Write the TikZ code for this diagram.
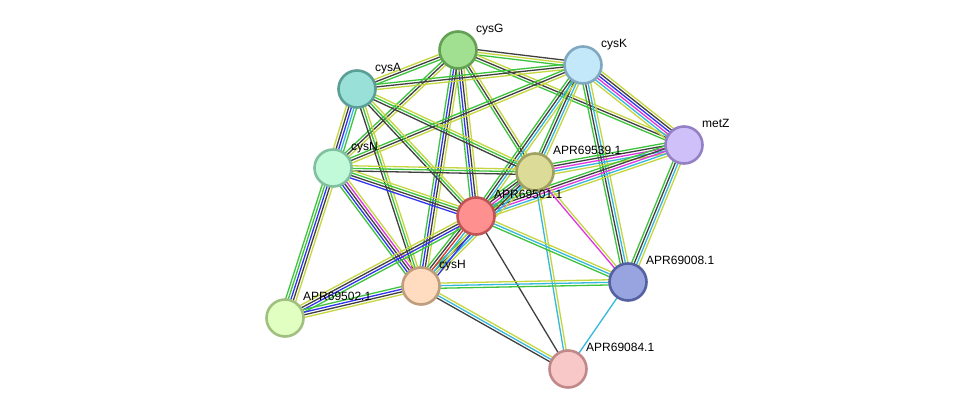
\documentclass[tikz,border=0pt]{standalone}
\usepackage{fontspec}
\setmainfont{Liberation Sans}
\usetikzlibrary{calc,backgrounds}
\definecolor{sG}{HTML}{3CC43C}
\definecolor{sK}{HTML}{404040}
\definecolor{sY}{HTML}{C6D640}
\definecolor{sB}{HTML}{3434F0}
\definecolor{sM}{HTML}{E034E0}
\definecolor{sC}{HTML}{34B8DC}
\definecolor{sR}{HTML}{E03434}
\newcommand{\medge}[4]{%
  \foreach \c [count=\i] in {#4}{%
    \pgfmathsetmacro\off{(\i-(#3+1)/2)*2.6}
    \draw[line width=1.3pt, draw=\c] ($(#1)!\off pt!90:(#2)$) -- ($(#2)!\off pt!-90:(#1)$);
  }}
\tikzset{
  prot/.style={circle, minimum size=37pt, inner sep=0pt, line width=2.6pt},
  lbl/.style={anchor=base west, font=\fontsize{12}{14}\selectfont, inner sep=0pt, text=black}
}
\begin{document}
\begin{tikzpicture}[x=1pt,y=-1pt]
\useasboundingbox (0,0) rectangle (976,415);
\node[prot, fill={rgb,255:red,160;green,224;blue,144}, draw={rgb,255:red,98;green,160;blue,84}] (cysG) at (458,50) {};
\node[prot, fill={rgb,255:red,194;green,232;blue,250}, draw={rgb,255:red,128;green,168;blue,192}] (cysK) at (583,65) {};
\node[prot, fill={rgb,255:red,152;green,224;blue,216}, draw={rgb,255:red,90;green,158;blue,150}] (cysA) at (357,89) {};
\node[prot, fill={rgb,255:red,208;green,192;blue,250}, draw={rgb,255:red,148;green,128;blue,196}] (metZ) at (684,145) {};
\node[prot, fill={rgb,255:red,192;green,250;blue,216}, draw={rgb,255:red,128;green,192;blue,160}] (cysN) at (333,168) {};
\node[prot, fill={rgb,255:red,220;green,220;blue,152}, draw={rgb,255:red,160;green,160;blue,96}] (P539) at (535,172) {};
\node[prot, fill={rgb,255:red,255;green,144;blue,144}, draw={rgb,255:red,192;green,84;blue,84}] (P501) at (476,216) {};
\node[prot, fill={rgb,255:red,255;green,220;blue,192}, draw={rgb,255:red,190;green,156;blue,124}] (cysH) at (421,286) {};
\node[prot, fill={rgb,255:red,152;green,164;blue,224}, draw={rgb,255:red,84;green,96;blue,160}] (P008) at (628,282) {};
\node[prot, fill={rgb,255:red,224;green,255;blue,192}, draw={rgb,255:red,160;green,192;blue,128}] (P502) at (285,318) {};
\node[prot, fill={rgb,255:red,248;green,200;blue,200}, draw={rgb,255:red,192;green,136;blue,136}] (P084) at (568,369) {};
\begin{pgfonlayer}{background}
\fill[white] (0,0) rectangle (976,415);
\medge{cysG}{cysK}{3}{sG,sY,sK}
\medge{cysG}{cysA}{3}{sY,sK,sG}
\medge{cysG}{cysN}{3}{sG,sK,sY}
\medge{cysG}{P501}{4}{sG,sB,sK,sY}
\medge{cysG}{cysH}{4}{sG,sB,sK,sY}
\medge{cysG}{P539}{3}{sG,sK,sY}
\medge{cysG}{metZ}{3}{sG,sK,sY}
\medge{cysK}{cysA}{3}{sG,sK,sY}
\medge{cysK}{cysN}{3}{sG,sK,sY}
\medge{cysK}{metZ}{6}{sY,sC,sM,sB,sK,sY}
\medge{cysK}{P539}{4}{sG,sK,sC,sY}
\medge{cysK}{P501}{4}{sG,sK,sC,sY}
\medge{cysK}{P008}{4}{sG,sK,sC,sY}
\medge{cysA}{cysN}{5}{sY,sK,sB,sC,sG}
\medge{cysA}{P501}{3}{sK,sG,sY}
\medge{cysA}{P539}{3}{sK,sG,sY}
\medge{cysA}{cysH}{3}{sK,sG,sY}
\medge{metZ}{P539}{5}{sG,sK,sM,sC,sY}
\medge{metZ}{P501}{5}{sG,sK,sM,sC,sY}
\medge{metZ}{P008}{4}{sG,sK,sC,sY}
\medge{cysN}{P539}{3}{sK,sG,sY}
\medge{cysN}{P501}{4}{sB,sK,sG,sY}
\medge{cysN}{cysH}{5}{sG,sB,sK,sM,sY}
\medge{cysN}{P502}{5}{sG,sG,sB,sK,sY}
\medge{P539}{P501}{5}{sG,sK,sM,sC,sY}
\medge{P539}{P084}{2}{sC,sY}
\medge{P539}{cysH}{4}{sG,sK,sC,sY}
\medge{P539}{P008}{2}{sM,sY}
\medge{P501}{cysH}{6}{sG,sK,sR,sC,sY,sB}
\medge{P501}{P502}{4}{sY,sK,sB,sG}
\medge{P501}{P008}{3}{sG,sC,sY}
\medge{P501}{P084}{1}{sK}
\medge{cysH}{P502}{4}{sG,sB,sK,sY}
\medge{cysH}{P008}{3}{sG,sC,sY}
\medge{cysH}{P084}{3}{sK,sC,sY}
\medge{P008}{P084}{1}{sC}
\end{pgfonlayer}
\node[lbl] (lcysG) at ($(cysG)+(18,-18)$) {cysG};
\node[lbl] (lcysK) at ($(cysK)+(18,-18)$) {cysK};
\node[lbl] (lcysA) at ($(cysA)+(18,-18)$) {cysA};
\node[lbl] (lmetZ) at ($(metZ)+(18,-18)$) {metZ};
\node[lbl] (lcysN) at ($(cysN)+(18,-18)$) {cysN};
\node[lbl] (lP539) at ($(P539)+(18,-18)$) {APR69539.1};
\node[lbl] (lP501) at ($(P501)+(18,-18)$) {APR69501.1};
\node[lbl] (lcysH) at ($(cysH)+(18,-18)$) {cysH};
\node[lbl] (lP008) at ($(P008)+(18,-18)$) {APR69008.1};
\node[lbl] (lP502) at ($(P502)+(18,-18)$) {APR69502.1};
\node[lbl] (lP084) at ($(P084)+(18,-18)$) {APR69084.1};
\end{tikzpicture}
\end{document}
